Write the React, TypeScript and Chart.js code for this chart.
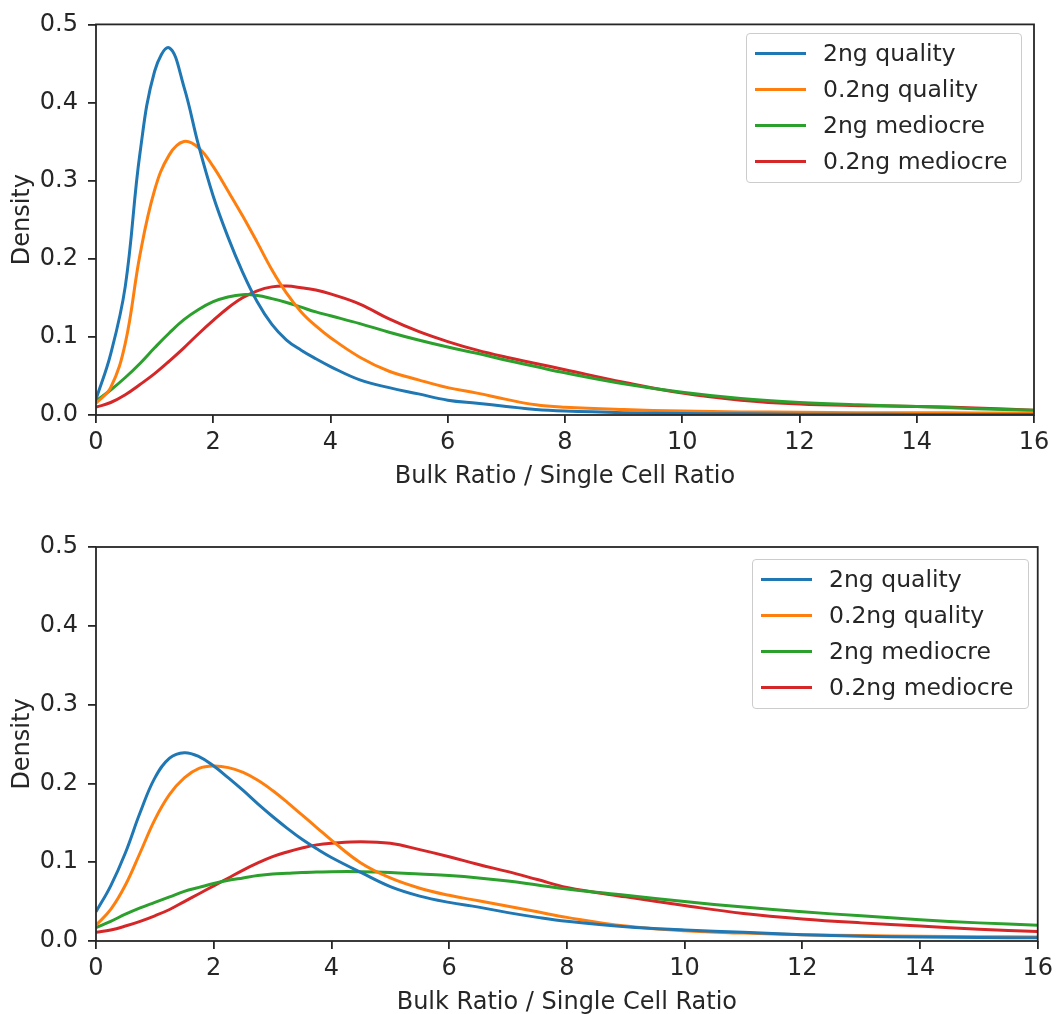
import React, { useEffect, useRef } from "react";
import { Chart, registerables } from "chart.js";

Chart.register(...registerables);

// ---------- data ----------
const xGrid = [
  0, 0.25, 0.5, 0.75, 1, 1.25, 1.5, 1.75, 2, 2.25, 2.5, 2.75, 3, 3.25, 3.5, 3.75, 4,
  4.5, 5, 5.5, 6, 6.5, 7, 7.5, 8,
  9, 10, 11, 12, 13, 14, 15, 16,
];

const seriesLabels = ["2ng quality", "0.2ng quality", "2ng mediocre", "0.2ng mediocre"];
const seriesColors = ["#1f77b4", "#ff7f0e", "#2ca02c", "#d62728"];

const xTickValues = [0, 2, 4, 6, 8, 10, 12, 14, 16];
const yTickValues = [0, 0.1, 0.2, 0.3, 0.4, 0.5];
const yTickLabels = ["0.0", "0.1", "0.2", "0.3", "0.4", "0.5"];
const xAxisTitle = "Bulk Ratio / Single Cell Ratio";
const yAxisTitle = "Density";

// top panel
const top2ngQuality = [
  0.020, 0.078, 0.165, 0.335, 0.440, 0.470, 0.420, 0.345, 0.280, 0.228, 0.183, 0.145, 0.116, 0.096, 0.083, 0.072, 0.062,
  0.045, 0.035, 0.027, 0.019, 0.015, 0.011, 0.007, 0.005,
  0.003, 0.002, 0.0015, 0.001, 0.001, 0.0008, 0.0006, 0.0005,
];
const top02ngQuality = [
  0.015, 0.035, 0.092, 0.205, 0.288, 0.333, 0.350, 0.342, 0.318, 0.287, 0.255, 0.221, 0.186, 0.156, 0.132, 0.114, 0.099,
  0.074, 0.056, 0.045, 0.035, 0.028, 0.020, 0.013, 0.010,
  0.007, 0.005, 0.004, 0.0035, 0.003, 0.003, 0.0025, 0.0025,
];
const top2ngMediocre = [
  0.018, 0.032, 0.048, 0.066, 0.086, 0.105, 0.122, 0.135, 0.145, 0.151, 0.154, 0.153, 0.149, 0.144, 0.138, 0.132, 0.127,
  0.117, 0.106, 0.096, 0.087, 0.079, 0.070, 0.062, 0.054,
  0.040, 0.029, 0.021, 0.016, 0.013, 0.011, 0.008, 0.006,
];
const top02ngMediocre = [
  0.010, 0.016, 0.026, 0.039, 0.053, 0.069, 0.086, 0.104, 0.121, 0.137, 0.150, 0.159, 0.164, 0.165, 0.163, 0.160, 0.155,
  0.142, 0.123, 0.107, 0.094, 0.083, 0.074, 0.066, 0.058,
  0.042, 0.028, 0.019, 0.014, 0.012, 0.011, 0.009, 0.006,
];

// bottom panel
const bottom2ngQuality = [
  0.037, 0.070, 0.112, 0.163, 0.207, 0.232, 0.239, 0.234, 0.222, 0.207, 0.191, 0.174, 0.158, 0.143, 0.129, 0.117, 0.106,
  0.087, 0.069, 0.057, 0.049, 0.043, 0.036, 0.030, 0.025,
  0.018, 0.014, 0.011, 0.008, 0.006, 0.005, 0.0045, 0.004,
];
const bottom02ngQuality = [
  0.020, 0.040, 0.071, 0.112, 0.154, 0.186, 0.207, 0.219, 0.222, 0.220, 0.214, 0.204, 0.191, 0.176, 0.160, 0.144, 0.128,
  0.099, 0.080, 0.067, 0.058, 0.051, 0.044, 0.037, 0.030,
  0.019, 0.013, 0.010, 0.008, 0.007, 0.006, 0.0055, 0.005,
];
const bottom2ngMediocre = [
  0.017, 0.025, 0.034, 0.042, 0.049, 0.056, 0.063, 0.068, 0.073, 0.077, 0.080, 0.083, 0.085, 0.086, 0.087, 0.0875, 0.088,
  0.088, 0.087, 0.085, 0.083, 0.080, 0.076, 0.071, 0.066,
  0.058, 0.050, 0.043, 0.037, 0.032, 0.027, 0.023, 0.020,
];
const bottom02ngMediocre = [
  0.011, 0.014, 0.019, 0.025, 0.032, 0.040, 0.050, 0.060, 0.070, 0.080, 0.090, 0.099, 0.107, 0.113, 0.118, 0.122, 0.124,
  0.126, 0.124, 0.116, 0.107, 0.097, 0.088, 0.078, 0.068,
  0.056, 0.045, 0.035, 0.028, 0.023, 0.019, 0.015, 0.012,
];

// ---------- style ----------
const FONT = "'DejaVu Sans', sans-serif";
const FONT_SIZE = 24;
const TEXT = "#262626";
const FRAME = "#262626";

const framePlugin = {
  id: "frameBox",
  afterDatasetsDraw(chart: any) {
    const { ctx, chartArea } = chart;
    const { left, top, right, bottom } = chartArea;
    ctx.save();
    ctx.strokeStyle = FRAME;
    ctx.lineWidth = 1.8;
    ctx.strokeRect(left, top, right - left, bottom - top);
    ctx.restore();
  },
};

type PanelProps = {
  top: number;
  height: number;
  padTop: number;
  padRight: number;
  xAxisHeight: number;
  titlePadBottom: number;
  series: number[][];
};

function Panel(p: PanelProps) {
  const ref = useRef<HTMLCanvasElement | null>(null);
  useEffect(() => {
    const canvas = ref.current;
    if (!canvas) return;
    const font = { family: FONT, size: FONT_SIZE };
    const grid = {
      drawOnChartArea: false,
      drawTicks: true,
      tickLength: 8,
      color: FRAME,
      lineWidth: 1.8,
    };
    const chart = new Chart(canvas, {
      type: "line",
      data: {
        datasets: p.series.map((vals, i) => ({
          label: seriesLabels[i],
          data: xGrid.map((x, j) => ({ x, y: vals[j] })),
          borderColor: seriesColors[i],
          backgroundColor: seriesColors[i],
          borderWidth: 3,
          pointRadius: 0,
          tension: 0.4,
          fill: false,
        })),
      },
      options: {
        responsive: false,
        animation: false,
        devicePixelRatio: 1,
        events: [],
        layout: { padding: { left: 0, top: p.padTop, right: p.padRight, bottom: 0 } },
        plugins: { legend: { display: false }, tooltip: { enabled: false } },
        scales: {
          x: {
            type: "linear",
            min: 0,
            max: 16,
            afterBuildTicks: (s: any) => {
              s.ticks = xTickValues.map((v) => ({ value: v }));
            },
            afterFit: (s: any) => {
              s.height = p.xAxisHeight;
            },
            ticks: {
              font,
              color: TEXT,
              padding: 5,
              maxRotation: 0,
              autoSkip: false,
              callback: (v: any) => String(v),
            },
            grid,
            border: { display: false },
            title: {
              display: true,
              text: xAxisTitle,
              font,
              color: TEXT,
              padding: { top: 0, bottom: p.titlePadBottom },
            },
          },
          y: {
            type: "linear",
            min: 0,
            max: 0.5,
            afterBuildTicks: (s: any) => {
              s.ticks = yTickValues.map((v) => ({ value: v }));
            },
            afterFit: (s: any) => {
              s.width = 96;
            },
            ticks: {
              font,
              color: TEXT,
              padding: 10,
              autoSkip: false,
              callback: (v: any) => {
                const idx = yTickValues.findIndex((t) => Math.abs(t - Number(v)) < 1e-9);
                return idx >= 0 ? yTickLabels[idx] : Number(v).toFixed(1);
              },
            },
            grid,
            border: { display: false },
            title: {
              display: true,
              text: yAxisTitle,
              font,
              color: TEXT,
              padding: { top: 8, bottom: 0 },
            },
          },
        },
      } as any,
      plugins: [framePlugin],
    });
    return () => chart.destroy();
  }, []);
  return (
    <canvas
      ref={ref}
      width={1058}
      height={p.height}
      style={{ position: "absolute", left: 0, top: p.top, width: 1058, height: p.height, display: "block" }}
    />
  );
}

function Legend({ left, top, width, height }: { left: number; top: number; width: number; height: number }) {
  return (
    <div
      style={{
        position: "absolute",
        left,
        top,
        width,
        height,
        boxSizing: "border-box",
        border: "1px solid #cccccc",
        borderRadius: 4,
        background: "rgba(255,255,255,0.8)",
        fontFamily: FONT,
        fontSize: 23.5,
        color: TEXT,
      }}
    >
      {seriesLabels.map((label, i) => (
        <div key={label} style={{ position: "absolute", left: 0, top: 1 + 36 * i, height: 36, width: "100%" }}>
          <div
            style={{ position: "absolute", left: 8, top: 16.5, width: 51, height: 3, background: seriesColors[i] }}
          />
          <span style={{ position: "absolute", left: 76, top: 0, lineHeight: "36px", whiteSpace: "nowrap" }}>
            {label}
          </span>
        </div>
      ))}
    </div>
  );
}

export default function App() {
  return (
    <div
      style={{
        position: "absolute",
        left: 0,
        top: 0,
        width: 1058,
        height: 1014,
        overflow: "hidden",
        background: "#ffffff",
      }}
    >
      <Panel
        top={0}
        height={500}
        padTop={20}
        padRight={24}
        xAxisHeight={85}
        titlePadBottom={8.4}
        series={[top2ngQuality, top02ngQuality, top2ngMediocre, top02ngMediocre]}
      />
      <Panel
        top={500}
        height={530}
        padTop={47}
        padRight={17}
        xAxisHeight={89}
        titlePadBottom={12.4}
        series={[bottom2ngQuality, bottom02ngQuality, bottom2ngMediocre, bottom02ngMediocre]}
      />
      <Legend left={746} top={33} width={276} height={150} />
      <Legend left={752} top={559} width={277} height={150} />
    </div>
  );
}
